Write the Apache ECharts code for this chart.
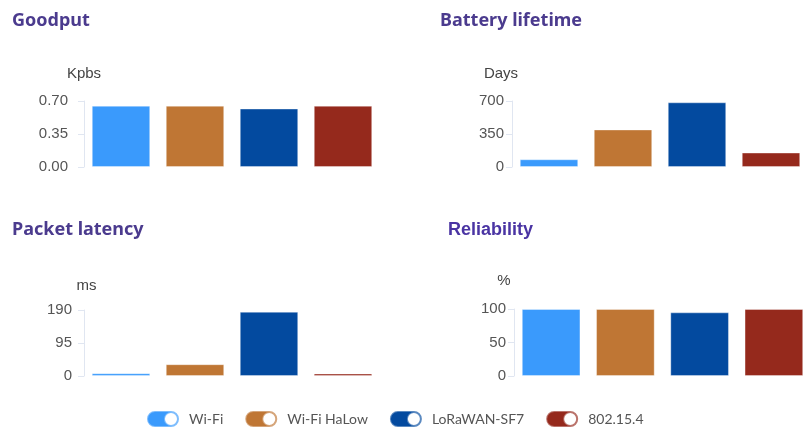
<!DOCTYPE html>
<html>
<head>
<meta charset="utf-8">
<script src="https://cdn.jsdelivr.net/npm/echarts@6/dist/echarts.min.js"></script>
<style>
html,body{margin:0;padding:0;background:#fff;}
#chart{width:811px;height:434px;}
</style>
</head>
<body>
<div id="chart"></div>
<script>
const techs = ['Wi-Fi', 'Wi-Fi HaLow', 'LoRaWAN-SF7', '802.15.4'];
const colors = ['#3a9afc', '#bf7634', '#034a9f', '#95291c'];
const goodput = [0.65, 0.65, 0.62, 0.65];
const battery = [82, 398, 686, 153];
const latency = [8, 34, 185, 7];
const reliability = [100, 100, 95, 100];

const panels = [
  {title: 'Goodput', unit: 'Kpbs', data: goodput, max: 0.7, interval: 0.35, dec: 2,
   grid: {left: 84, top: 101, width: 296, height: 66}, tl: 12, tt: 12, margin: 16, namePad: [0,0,0,0], nameGap: 20,
   tfont: 'Noto Sans', tsize: 18, tcolor: '#4b3b8e'},
  {title: 'Battery lifetime', unit: 'Days', data: battery, max: 700, interval: 350, dec: 0,
   grid: {left: 512, top: 101, width: 296, height: 66}, tl: 440, tt: 12, margin: 8, namePad: [0,22,0,0], nameGap: 20,
   tfont: 'Noto Sans', tsize: 18, tcolor: '#4b3b8e'},
  {title: 'Packet latency', unit: 'ms', data: latency, max: 190, interval: 95, dec: 0,
   grid: {left: 84, top: 310, width: 296, height: 66}, tl: 12, tt: 221, margin: 12, namePad: [0,0,0,5], nameGap: 17,
   tfont: 'Noto Sans', tsize: 18, tcolor: '#4b3b8e'},
  {title: 'Reliability', unit: '%', data: reliability, max: 100, interval: 50, dec: 0,
   grid: {left: 514, top: 309, width: 302, height: 67}, tl: 448, tt: 221, margin: 8, namePad: [0,20,0,0], nameGap: 21,
   tfont: 'Liberation Sans', tsize: 18, tcolor: '#4a34a3'}
];

const toggleIcon = 'path://M8,0 H24 A8,8 0 0 1 24,16 H8 A8,8 0 0 1 8,0 Z M24,2 A6,6 0 0 0 24,14 A6,6 0 0 0 24,2 Z';

const option = {
  animation: false,
  backgroundColor: '#ffffff',
  title: panels.map(p => ({
    text: p.title, left: p.tl, top: p.tt, padding: 0,
    textStyle: {fontFamily: p.tfont, fontWeight: 'bold', fontSize: p.tsize, color: p.tcolor}
  })),
  legend: {
    left: 141, top: 405, itemWidth: 42, itemHeight: 16, itemGap: 21,
    icon: toggleIcon,
    data: techs,
    textStyle: {fontFamily: 'Lato', fontSize: 14, color: '#555'}
  },
  grid: panels.map(p => p.grid),
  xAxis: panels.map((p, i) => ({
    type: 'category', gridIndex: i, data: techs, show: false
  })),
  yAxis: panels.map((p, i) => ({
    type: 'value', gridIndex: i, min: 0, max: p.max, interval: p.interval,
    name: p.unit, nameLocation: 'end', nameGap: p.nameGap,
    nameTextStyle: {fontFamily: 'Liberation Sans', fontSize: 15, color: '#444', padding: p.namePad},
    axisLine: {show: true, lineStyle: {color: '#e0e6f1', width: 1}},
    axisTick: {show: true, length: 6, lineStyle: {color: '#e0e6f1'}},
    splitLine: {show: false},
    axisLabel: {fontFamily: 'Liberation Sans', fontSize: 15, color: '#555', margin: p.margin,
      formatter: v => v.toFixed(p.dec)}
  })),
  series: []
};

panels.forEach((p, g) => {
  techs.forEach((t, i) => {
    option.series.push({
      type: 'bar', name: t, xAxisIndex: g, yAxisIndex: g,
      barWidth: '79%', barGap: '-100%',
      itemStyle: {color: colors[i], borderColor: 'rgba(255,255,255,0.35)', borderWidth: 1},
      data: p.data.map((v, j) => j === i ? v : '-')
    });
  });
});

const chart = echarts.init(document.getElementById('chart'), null, {renderer: 'canvas'});
chart.setOption(option);
</script>
</body>
</html>
